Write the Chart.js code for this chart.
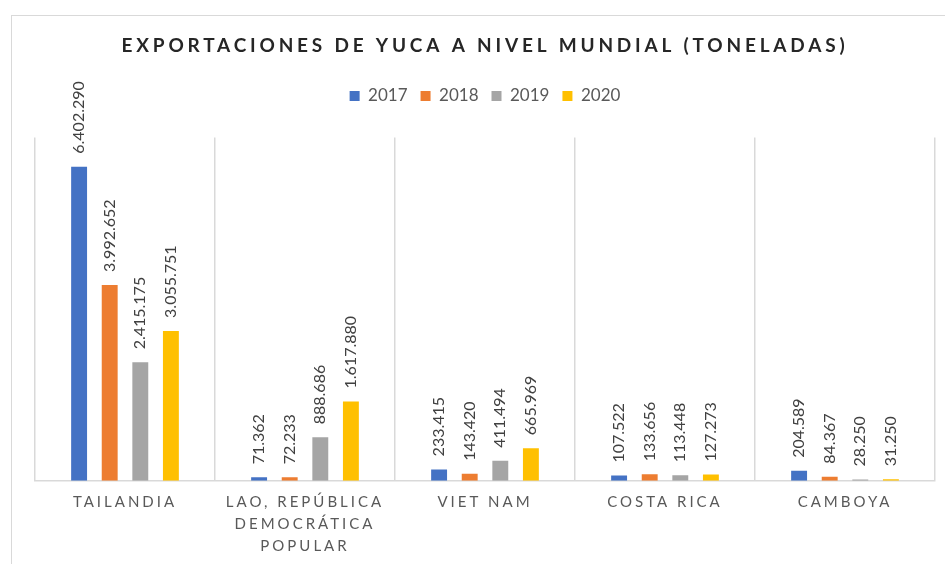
<!DOCTYPE html>
<html lang="es">
<head>
<meta charset="utf-8">
<title>Exportaciones de yuca a nivel mundial</title>
<script src="https://cdn.jsdelivr.net/npm/chart.js@4.4.1/dist/chart.umd.min.js"></script>
<style>
  html, body { margin: 0; padding: 0; background: #ffffff; }
  #wrap { position: relative; width: 945px; height: 564px; overflow: hidden; }
  /* marco gris claro del gráfico */
  #frame {
    position: absolute;
    left: 11px;
    top: 15px;
    width: 1000px;
    height: 600px;
    border-left: 1.5px solid #d9d9d9;
    border-top: 1.5px solid #d9d9d9;
  }
  #chart { position: absolute; left: 0; top: 0; }
</style>
</head>
<body>
<div id="wrap">
  <div id="frame"></div>
  <canvas id="chart" width="945" height="564"></canvas>
</div>
<script>
// 1. datos ---------------------------------------------------------------
const paises = [
  'TAILANDIA',
  ['LAO, REPÚBLICA', 'DEMOCRÁTICA', 'POPULAR'],
  'VIET NAM',
  'COSTA RICA',
  'CAMBOYA',
]
const anios = ['2017', '2018', '2019', '2020']
const ton2017 = [6402290, 71362, 233415, 107522, 204589]
const ton2018 = [3992652, 72233, 143420, 133656, 84367]
const ton2019 = [2415175, 888686, 411494, 113448, 28250]
const ton2020 = [3055751, 1617880, 665969, 127273, 31250]
const colores = ['#4472c4', '#ed7d31', '#a5a5a5', '#ffc000']

const FONT = 'Lato, "Open Sans", sans-serif'

// miles con punto: 6402290 -> 6.402.290
function miles(v) {
  return String(v).replace(/\B(?=(\d{3})+(?!\d))/g, '.')
}

// 2. plugins propios -----------------------------------------------------
// etiquetas de valor giradas encima de cada barra
const etiquetasValor = {
  id: 'etiquetasValor',
  afterDatasetsDraw(chart) {
    const ctx = chart.ctx
    ctx.save()
    ctx.font = `16px ${FONT}`
    ctx.fillStyle = '#404040'
    ctx.textAlign = 'left'
    ctx.textBaseline = 'middle'
    chart.data.datasets.forEach((ds, i) => {
      const meta = chart.getDatasetMeta(i)
      meta.data.forEach((bar, j) => {
        ctx.save()
        ctx.translate(bar.x, bar.y - 13)
        ctx.rotate(-Math.PI / 2)
        ctx.fillText(miles(ds.data[j]), 0, 0)
        ctx.restore()
      })
    })
    ctx.restore()
  }
}

// espaciado entre letras para el título y las categorías
function conEspaciado(obj, fn, spacing) {
  if (!obj || obj['_esp_' + fn]) return
  const orig = obj[fn]
  obj[fn] = function (...args) {
    const ctx = this.ctx
    const prev = ctx.letterSpacing
    ctx.letterSpacing = spacing
    orig.apply(this, args)
    ctx.letterSpacing = prev
  }
  obj['_esp_' + fn] = true
}

const espaciado = {
  id: 'espaciado',
  afterInit(chart) {
    // deja aire entre la leyenda y el área de barras
    const fit = chart.legend.fit
    chart.legend.fit = function () {
      fit.call(this)
      this.height += 23
    }
  },
  beforeDraw(chart) {
    conEspaciado(chart.titleBlock, 'draw', '3.8px')
    conEspaciado(chart.scales.x, 'drawLabels', '3px')
  }
}

// 3. gráfico -------------------------------------------------------------
const series = [ton2017, ton2018, ton2019, ton2020]

new Chart(document.querySelector('#chart'), {
  type: 'bar',
  data: {
    labels: paises,
    datasets: anios.map((anio, i) => ({
      label: anio,
      data: series[i],
      backgroundColor: colores[i],
      borderWidth: 0,
      categoryPercentage: 0.68,
      barPercentage: 0.52,
    })),
  },
  options: {
    responsive: false,
    animation: false,
    layout: { padding: { left: 35, right: 10, top: 0, bottom: -3 } },
    scales: {
      x: {
        grid: {
          offset: true,
          color: '#d9d9d9',
          lineWidth: 1.5,
          drawTicks: false,
        },
        border: { color: '#d9d9d9', width: 1.5 },
        ticks: {
          color: '#595959',
          font: { family: FONT, size: 15, lineHeight: 1.47 },
          padding: 10,
          autoSkip: false,
          maxRotation: 0,
          minRotation: 0,
        },
      },
      y: {
        display: false,
        min: 0,
        max: 7000000,
      },
    },
    plugins: {
      title: {
        display: true,
        text: 'EXPORTACIONES DE YUCA A NIVEL MUNDIAL (TONELADAS)',
        color: '#262626',
        font: { family: FONT, size: 19, weight: 'bold', lineHeight: 1.2 },
        padding: { top: 34.6, bottom: 17 },
      },
      legend: {
        position: 'top',
        labels: {
          color: '#595959',
          font: { family: FONT, size: 17 },
          boxWidth: 10,
          boxHeight: 10,
          padding: 13,
        },
      },
      tooltip: { enabled: false },
    },
  },
  plugins: [etiquetasValor, espaciado],
})
</script>
</body>
</html>
